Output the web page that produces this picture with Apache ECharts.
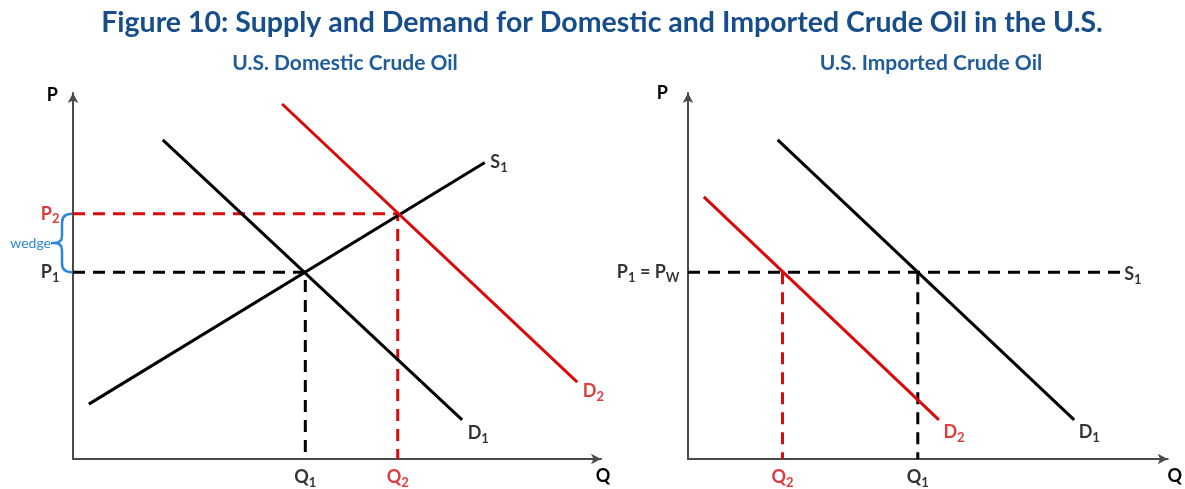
<!DOCTYPE html>
<html>
<head>
<meta charset="utf-8">
<title>Supply and Demand for Domestic and Imported Crude Oil</title>
<script src="https://cdn.jsdelivr.net/npm/echarts@6.0.0/dist/echarts.min.js"></script>
<style>
  html, body { margin: 0; padding: 0; background: #fff; }
  #chart { width: 1185px; height: 489px; }
</style>
</head>
<body>
<div id="chart"></div>
<script>
// 左圖：美國國內原油 (axes run 0..10)
const domSupply = [[0.3, 1.5], [7.8, 8.1]]
const domDemand1 = [[1.7, 8.72], [7.37, 1.07]]
const domDemand2 = [[3.96, 9.7], [9.55, 2.1]]
const domPrice = [5.1, 6.7]      // P1, P2
const domQty = [4.4, 6.15]       // Q1, Q2

// 右圖：美國進口原油
const impWorldPrice = 5.1        // P1 = PW
const impSupplyEnd = 9.02
const impDemand1 = [[1.87, 8.72], [8.05, 1.07]]
const impDemand2 = [[0.33, 7.16], [5.23, 1.07]]
const impQty = [4.79, 1.97]      // Q1, Q2

const FONT = 'Lato, "Open Sans", sans-serif'
const RED = '#DA0A0A'
const BLACK = '#000000'
const BLUE = '#2B88D8'

// 下標文字樣式
const rich = {
  m: { fontSize: 18, fontWeight: 'bold', fontFamily: FONT, lineHeight: 24, verticalAlign: 'middle' },
  s: { fontSize: 13, fontWeight: 'bold', fontFamily: FONT, lineHeight: 14, verticalAlign: 'bottom' }
}
const sub = (base, idx) => `{m|${base}}{s|${idx}}`

const axisLine = {
  show: true,
  symbol: ['none', 'arrow'],
  symbolSize: [8, 10],
  lineStyle: { color: '#4a4a4a', width: 2 }
}

const nameStyle = (align, vAlign, padding) => ({
  fontFamily: FONT, fontSize: 18, fontWeight: 'bold', color: BLACK,
  align: align, verticalAlign: vAlign, padding: padding
})

const makeAxis = (gridIndex, name, nameGap, nameTextStyle) => ({
  type: 'value',
  gridIndex: gridIndex,
  min: 0,
  max: 10,
  name: name,
  nameLocation: 'end',
  nameGap: nameGap,
  nameTextStyle: nameTextStyle,
  axisLine: axisLine,
  axisTick: { show: false },
  axisLabel: { show: false },
  splitLine: { show: false }
})

const solid = (name, data, color, gi) => ({
  name: name,
  type: 'line',
  xAxisIndex: gi,
  yAxisIndex: gi,
  data: data,
  symbol: 'none',
  silent: true,
  lineStyle: { color: color, width: 3 },
  z: 3
})

const dashed = (data, color, gi) => ({
  type: 'line',
  xAxisIndex: gi,
  yAxisIndex: gi,
  data: data,
  symbol: 'none',
  silent: true,
  lineStyle: { color: color, width: 3, type: [12, 8] },
  z: 2
})

const lbl = (value, text, color, position, distance, offset) => ({
  value: value,
  label: {
    show: true,
    formatter: text,
    position: position,
    distance: distance,
    offset: offset || [0, 0],
    color: color,
    rich: rich
  }
})

const labelSeries = (data, gi) => ({
  type: 'scatter',
  xAxisIndex: gi,
  yAxisIndex: gi,
  symbolSize: 1,
  itemStyle: { color: 'rgba(0,0,0,0)' },
  silent: true,
  data: data,
  z: 5
})

const getOption = () => {
  const last = arr => arr[arr.length - 1]
  return {
    animation: false,
    backgroundColor: '#fff',
    title: [
      {
        text: 'Figure 10: Supply and Demand for Domestic and Imported Crude Oil in the U.S.',
        left: 597,
        textAlign: 'center',
        top: 3,
        textStyle: { fontFamily: FONT, fontSize: 28.5, fontWeight: 'bold', color: '#164D8A' }
      },
      {
        text: 'U.S. Domestic Crude Oil',
        left: 340,
        textAlign: 'center',
        top: 48,
        textStyle: { fontFamily: FONT, fontSize: 21, fontWeight: 'bold', color: '#1F5C99' }
      },
      {
        text: 'U.S. Imported Crude Oil',
        left: 926,
        textAlign: 'center',
        top: 48,
        textStyle: { fontFamily: FONT, fontSize: 21, fontWeight: 'bold', color: '#1F5C99' }
      }
    ],
    grid: [
      { left: 73, top: 93, width: 528, height: 366 },
      { left: 688, top: 93, width: 482, height: 366 }
    ],
    xAxis: [
      makeAxis(0, 'Q', 2, nameStyle('center', 'top', [8, 0, 0, 0])),
      makeAxis(1, 'Q', 7, nameStyle('center', 'top', [8, 0, 0, 0]))
    ],
    yAxis: [
      makeAxis(0, 'P', -2, nameStyle('right', 'middle', [0, 15, 0, 0])),
      makeAxis(1, 'P', 0, nameStyle('right', 'middle', [0, 20, 0, 0]))
    ],
    series: [
      // 左圖虛線
      dashed([[0, domPrice[1]], [domQty[1], domPrice[1]], [domQty[1], 0]], RED, 0),
      dashed([[0, domPrice[0]], [domQty[0], domPrice[0]], [domQty[0], 0]], BLACK, 0),
      solid('S1', domSupply, BLACK, 0),
      solid('D1', domDemand1, BLACK, 0),
      solid('D2', domDemand2, RED, 0),
      // wedge 括號
      {
        type: 'custom',
        xAxisIndex: 0,
        yAxisIndex: 0,
        silent: true,
        data: [[0, domPrice[0], domPrice[1]]],
        renderItem: function (params, api) {
          const top = api.coord([api.value(0), api.value(2)])
          const bot = api.coord([api.value(0), api.value(1)])
          const x = top[0] - 1
          const y1 = top[1]
          const y2 = bot[1]
          const mid = (y1 + y2) / 2
          const bx = x - 10
          const path = `M${x} ${y1} Q${bx} ${y1} ${bx} ${y1 + 9} L${bx} ${mid - 7} Q${bx} ${mid} ${bx - 8} ${mid} ` +
            `L${bx - 11} ${mid} M${bx - 8} ${mid} Q${bx} ${mid} ${bx} ${mid + 7} L${bx} ${y2 - 9} Q${bx} ${y2} ${x} ${y2}`
          return {
            type: 'group',
            children: [
              {
                type: 'path',
                shape: { pathData: path },
                style: { fill: 'none', stroke: BLUE, lineWidth: 2.5 }
              },
              {
                type: 'text',
                style: {
                  text: 'wedge',
                  x: bx - 11,
                  y: mid,
                  align: 'right',
                  verticalAlign: 'middle',
                  fill: BLUE,
                  font: '14px ' + FONT
                }
              }
            ]
          }
        },
        z: 4
      },
      labelSeries([
        lbl([0, domPrice[0]], sub('P', 1), BLACK, 'left', 13),
        lbl([0, domPrice[1]], sub('P', 2), RED, 'left', 13),
        lbl([domQty[0], 0], sub('Q', 1), BLACK, 'bottom', 6),
        lbl([domQty[1], 0], sub('Q', 2), RED, 'bottom', 6),
        lbl(last(domSupply), sub('S', 1), BLACK, 'right', 5),
        lbl(last(domDemand1), sub('D', 1), BLACK, 'right', 5, [0, 13]),
        lbl(last(domDemand2), sub('D', 2), RED, 'right', 5, [0, 9])
      ], 0),

      // 右圖
      dashed([[0, impWorldPrice], [impSupplyEnd, impWorldPrice]], BLACK, 1),
      dashed([[impQty[0], impWorldPrice], [impQty[0], 0]], BLACK, 1),
      dashed([[impQty[1], impWorldPrice], [impQty[1], 0]], RED, 1),
      solid('D1', impDemand1, BLACK, 1),
      solid('D2', impDemand2, RED, 1),
      labelSeries([
        lbl([0, impWorldPrice], sub('P', 1) + '{m| = P}{s|W}', BLACK, 'left', 8),
        lbl([impQty[0], 0], sub('Q', 1), BLACK, 'bottom', 6),
        lbl([impQty[1], 0], sub('Q', 2), RED, 'bottom', 6),
        lbl([impSupplyEnd, impWorldPrice], sub('S', 1), BLACK, 'right', 3, [0, 2]),
        lbl(last(impDemand1), sub('D', 1), BLACK, 'right', 4, [0, 12]),
        lbl(last(impDemand2), sub('D', 2), RED, 'right', 4, [0, 12])
      ], 1)
    ]
  }
}

const chart = echarts.init(document.getElementById('chart'))
chart.setOption(getOption())
window.addEventListener('resize', () => chart.resize())
</script>
</body>
</html>
